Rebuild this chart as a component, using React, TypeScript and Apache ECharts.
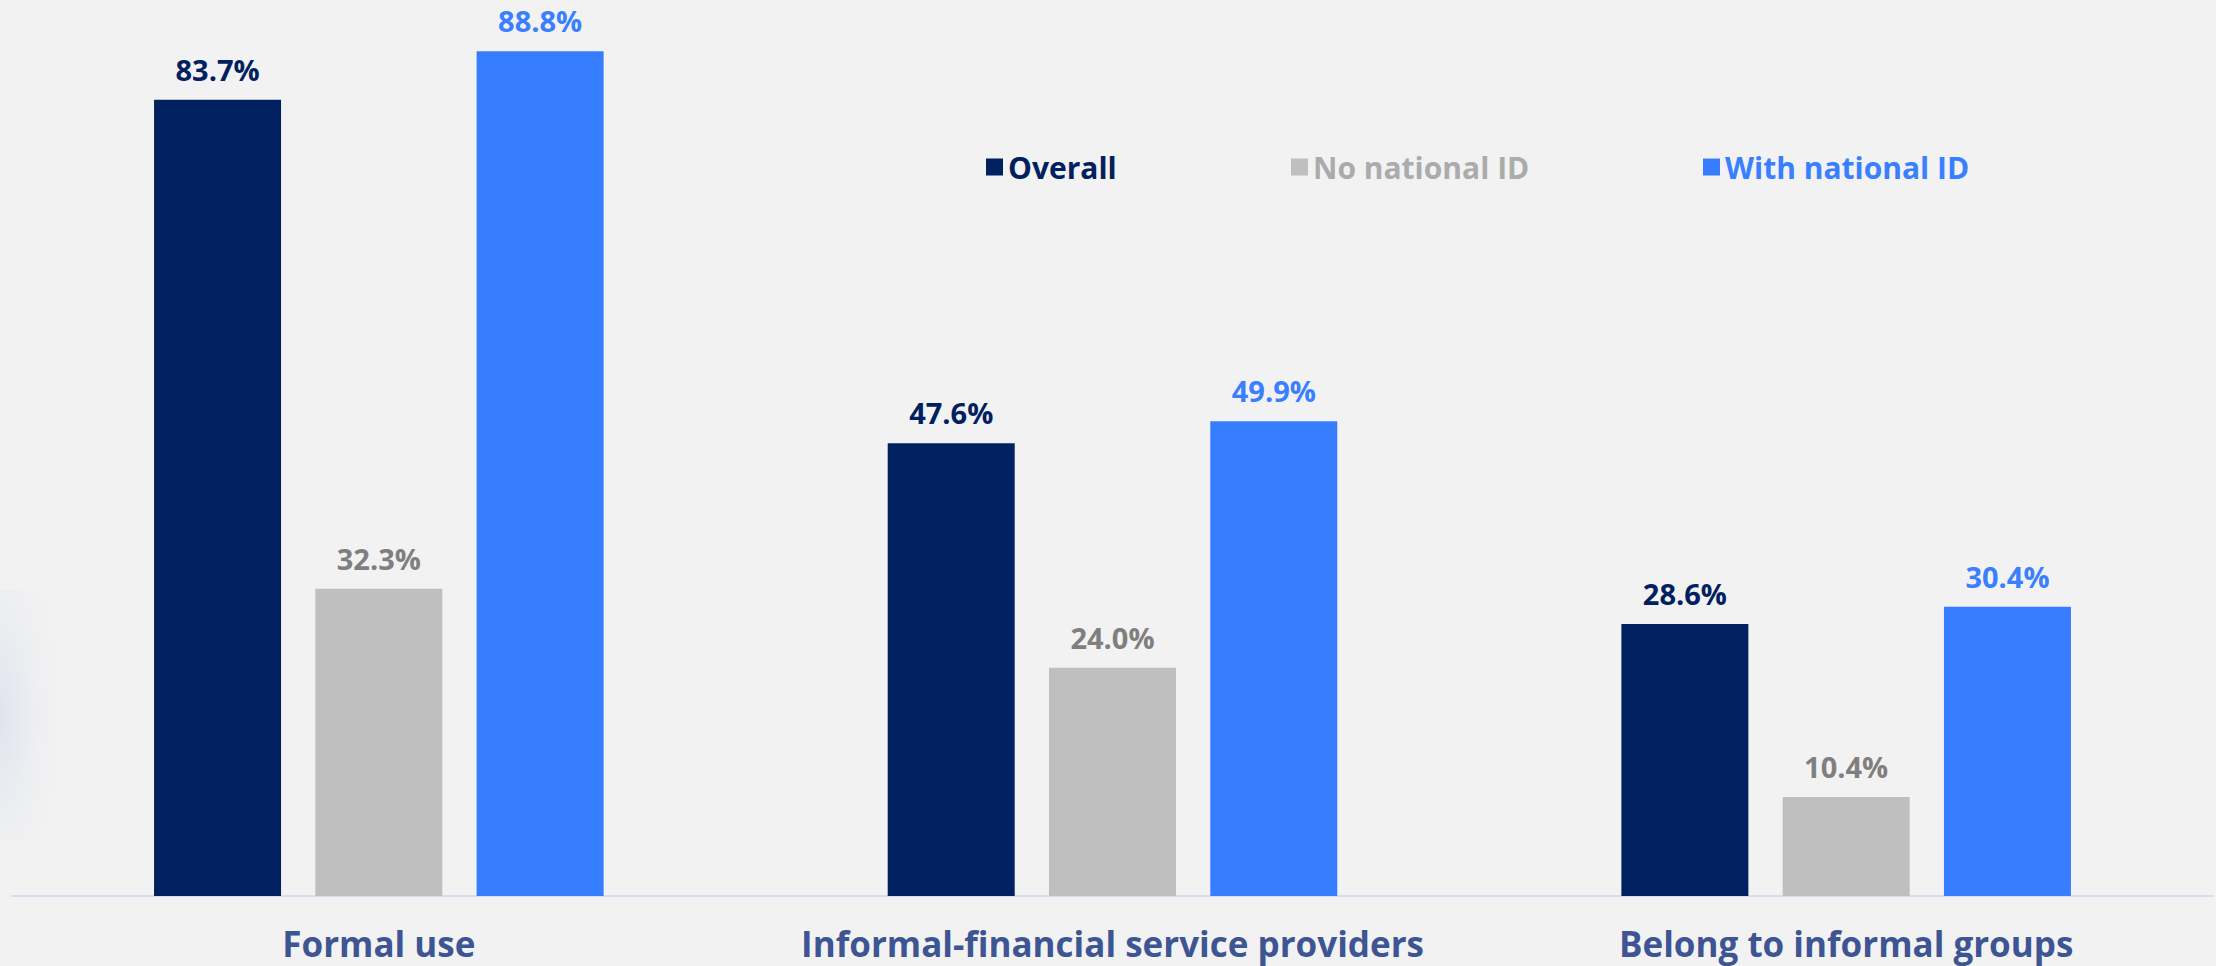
import React, { useEffect, useRef } from "react";
import * as echarts from "echarts";

const categories = ["Formal use", "Informal-financial service providers", "Belong to informal groups"];
const seriesNames = ["Overall", "No national ID", "With national ID"];
const overall = [83.7, 47.6, 28.6];
const noNationalId = [32.3, 24.0, 10.4];
const withNationalId = [88.8, 49.9, 30.4];

const barColors = ["#00205F", "#BFBFBF", "#377DFF"];
const labelColors = ["#002060", "#7F7F7F", "#3A7FFF"];
const legendTextColors = ["#002060", "#ABABAB", "#3A7FFF"];
const legendLefts = [981, 1286, 1698];

export default function App() {
  const ref = useRef<HTMLDivElement>(null);
  useEffect(() => {
    if (!ref.current) return;
    const chart = echarts.init(ref.current, null, { renderer: "svg" });
    const values = [overall, noNationalId, withNationalId];
    const font = "'Open Sans', Lato, sans-serif";
    chart.setOption({
      animation: false,
      backgroundColor: "#F2F2F2",
      textStyle: { fontFamily: font },
      graphic: [
        {
          type: "rect",
          shape: { x: 0, y: 590, width: 80, height: 250 },
          style: {
            fill: new echarts.graphic.RadialGradient(0, 0.5, 0.9, [
              { offset: 0, color: "rgba(205,212,235,0.5)" },
              { offset: 1, color: "rgba(242,242,242,0)" },
            ]),
          },
          silent: true,
        },
      ],
      legend: seriesNames.map((n, i) => ({
        data: [n],
        left: legendLefts[i],
        top: 147,
        icon: "rect",
        itemWidth: 17,
        itemHeight: 17,
        selectedMode: false,
        textStyle: {
          color: legendTextColors[i],
          fontSize: 30,
          fontWeight: "bold",
          fontFamily: font,
          lineHeight: 30,
        },
      })),
      grid: { left: 12, right: 3, top: 0, bottom: 70, containLabel: false },
      xAxis: {
        type: "category",
        data: categories,
        axisLine: { show: true, lineStyle: { color: "#D6DDEF", width: 2 } },
        axisTick: { show: false },
        axisLabel: {
          interval: 0,
          hideOverlap: false,
          margin: 30,
          fontSize: 35,
          fontWeight: "bold",
          color: "#3E5593",
          fontFamily: font,
        },
      },
      yAxis: {
        type: "value",
        min: 0,
        max: 94.2,
        show: false,
        splitLine: { show: false },
      },
      series: seriesNames.map((n, i) => ({
        name: n,
        type: "bar",
        data: values[i],
        barWidth: 127,
        barGap: "27%",
        itemStyle: { color: barColors[i] },
        label: {
          show: true,
          position: "top",
          distance: 16,
          fontSize: 29,
          fontWeight: "bold",
          color: labelColors[i],
          fontFamily: font,
          formatter: (p: any) => Number(p.value).toFixed(1) + "%",
        },
      })),
    });
    return () => chart.dispose();
  }, []);
  return (
    <div
      ref={ref}
      style={{ position: "absolute", left: 0, top: 0, width: 2216, height: 966 }}
    />
  );
}
